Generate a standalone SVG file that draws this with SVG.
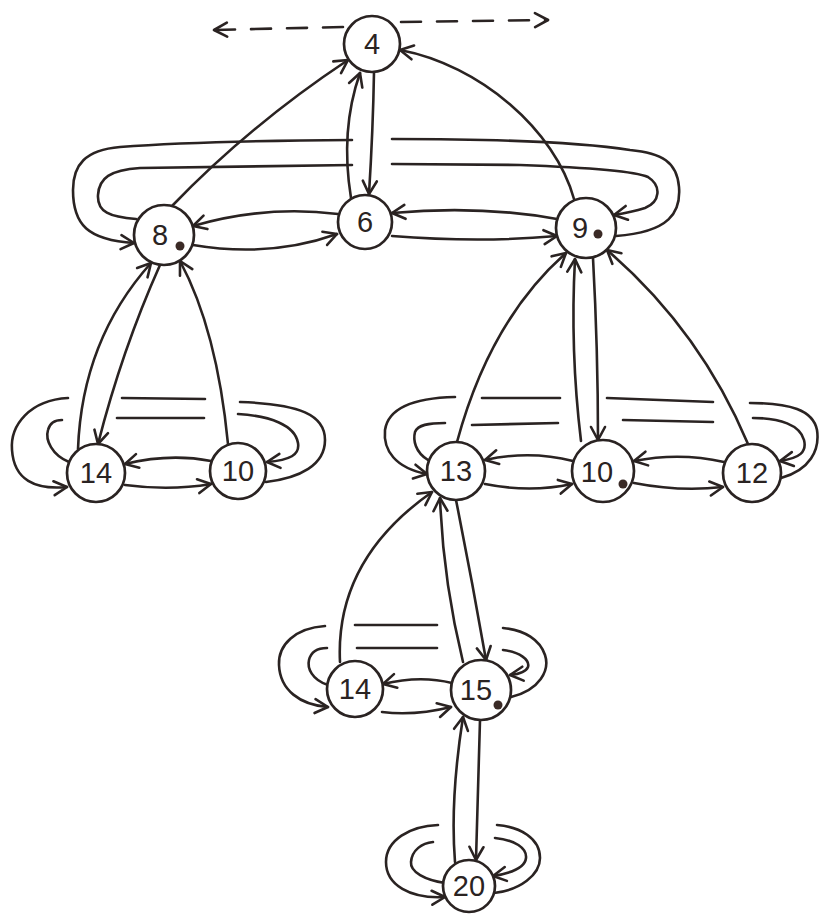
<svg xmlns="http://www.w3.org/2000/svg" width="822" height="920" viewBox="0 0 822 920">
<style>
.bg{fill:#ffffff}
.node circle.ring{fill:#ffffff;stroke:#2a2322;stroke-width:2.7}
.node text{font-family:"Liberation Sans","DejaVu Sans",sans-serif;font-size:29px;fill:#2a2322;text-anchor:middle}
.node circle.dot{fill:#3a2a26;stroke:none}
.e{fill:none;stroke:#2a2322;stroke-width:2.6;stroke-linecap:round;stroke-linejoin:round}
.a{marker-end:url(#arr)}
.d{stroke-dasharray:20 16}
</style>
<defs>
<marker id="arr" viewBox="-15 -9 18 18" refX="0" refY="0" markerWidth="18" markerHeight="18" markerUnits="userSpaceOnUse" orient="auto">
<path d="M-13,-7 L0,0 L-13,7" fill="none" stroke="#2a2322" stroke-width="2.6" stroke-linecap="round" stroke-linejoin="round"/>
</marker>
</defs>
<rect class="bg" x="0" y="0" width="822" height="920"/>
<g id="connectors">
<path class="e d a" d="M343,27 L214,30"/>
<path class="e d a" d="M401,22 L548,20"/>
<path class="e a" d="M172,206 Q250,125 348,60"/>
<path class="e a" d="M374,72 Q373,130 369,194"/>
<path class="e a" d="M351,198 Q340,130 360,73"/>
<path class="e a" d="M574,199 C555,130 480,65 400,50"/>
<path class="e a" d="M338,214 Q265,205 193,226"/>
<path class="e a" d="M193,245 Q270,258 337,234"/>
<path class="e a" d="M557,219 Q480,205 392,213"/>
<path class="e a" d="M392,236 Q480,243 557,236"/>
<path class="e" d="M616,236 C670,232 681,212 679,187 C677,162 662,153 630,150 Q560,139 392,139"/>
<path class="e a" d="M352,140 Q200,141 120,147 C85,150 73,165 73,190 C73,225 88,240 134,243"/>
<path class="e" d="M136,219 C110,217 97,212 98,195 C99,178 110,170 140,168 L352,165"/>
<path class="e a" d="M392,164 L520,165 Q630,169 648,177 C662,186 660,202 645,208 Q632,212 614,215"/>
<path class="e a" d="M78,449 Q82,340 151,263"/>
<path class="e a" d="M160,265 Q122,350 98,444"/>
<path class="e a" d="M228,444 Q217,330 180,261"/>
<path class="e a" d="M211,461 Q170,453 125,464"/>
<path class="e a" d="M125,485 Q170,491 211,484"/>
<path class="e" d="M266,482 C300,478 325,465 325,440 C325,415 300,404 240,402"/>
<path class="e" d="M205,399 L122,398"/>
<path class="e a" d="M68,398 C30,400 10,425 12,450 C14,480 35,490 67,487"/>
<path class="e" d="M69,462 C52,455 45,440 48,430 C50,422 56,420 62,420"/>
<path class="e" d="M117,418 L204,418"/>
<path class="e a" d="M238,414 C270,416 295,425 298,443 C300,455 290,460 267,462"/>
<path class="e a" d="M457,442 Q490,320 566,253"/>
<path class="e a" d="M581,441 Q570,350 575,259"/>
<path class="e a" d="M593,258 Q598,350 598,440"/>
<path class="e a" d="M748,444 Q700,330 607,250"/>
<path class="e a" d="M573,461 Q530,450 485,460"/>
<path class="e a" d="M485,484 Q530,493 572,484"/>
<path class="e a" d="M724,462 Q680,452 634,461"/>
<path class="e a" d="M634,483 Q680,492 723,487"/>
<path class="e" d="M781,478 C810,470 820,450 817,430 C813,410 790,403 750,403"/>
<path class="e" d="M713,402 L607,398"/>
<path class="e" d="M560,398 L482,398"/>
<path class="e a" d="M455,397 C410,398 388,410 385,430 C383,450 395,468 427,474"/>
<path class="e" d="M428,460 C415,452 413,440 415,432 C418,425 428,423 445,423"/>
<path class="e" d="M472,425 L558,423"/>
<path class="e" d="M623,420 L713,422"/>
<path class="e a" d="M753,418 C780,418 800,425 804,440 C807,452 800,458 780,461"/>
<path class="e a" d="M340,662 Q335,560 432,492"/>
<path class="e a" d="M463,662 Q443,580 440,498"/>
<path class="e a" d="M456,500 Q472,580 486,660"/>
<path class="e a" d="M452,683 Q420,675 383,684"/>
<path class="e a" d="M382,712 Q415,716 451,707"/>
<path class="e" d="M511,697 C540,690 550,670 545,655 C540,640 525,630 503,628"/>
<path class="e" d="M437,625 L355,625"/>
<path class="e a" d="M325,626 C295,628 278,645 279,665 C280,690 300,705 328,707"/>
<path class="e" d="M328,685 C312,680 307,668 309,660 C311,652 318,648 327,648"/>
<path class="e" d="M357,648 L437,648"/>
<path class="e a" d="M503,650 C520,652 530,660 528,667 C526,672 520,674 510,675"/>
<path class="e a" d="M455,862 Q450,800 463,717"/>
<path class="e a" d="M480,720 Q478,800 476,860"/>
<path class="e" d="M494,893 C520,890 540,875 540,858 C540,838 520,827 497,825"/>
<path class="e a" d="M438,825 C410,826 386,840 386,862 C386,885 410,899 445,897"/>
<path class="e" d="M445,883 C425,880 410,872 411,862 C412,850 422,843 433,842"/>
<path class="e a" d="M495,838 C515,840 527,848 526,858 C525,868 512,873 493,876"/>
</g>
<g id="node-4" class="node"><circle class="ring" cx="372" cy="44" r="28"/><text x="372" y="54">4</text></g>
<g id="node-6" class="node"><circle class="ring" cx="365" cy="222" r="27"/><text x="365" y="232">6</text></g>
<g id="node-8" class="node"><circle class="ring" cx="164" cy="235" r="30"/><text x="160" y="245">8</text><circle class="dot" cx="180" cy="246" r="4.5"/></g>
<g id="node-9" class="node"><circle class="ring" cx="586" cy="228" r="30"/><text x="580" y="238">9</text><circle class="dot" cx="598" cy="234" r="4.5"/></g>
<g id="node-14a" class="node"><circle class="ring" cx="96" cy="473" r="29"/><text x="96" y="483">14</text></g>
<g id="node-10a" class="node"><circle class="ring" cx="238" cy="471" r="28"/><text x="238" y="481">10</text></g>
<g id="node-13" class="node"><circle class="ring" cx="456" cy="471" r="29"/><text x="456" y="481">13</text></g>
<g id="node-10b" class="node"><circle class="ring" cx="603" cy="471" r="31"/><text x="597" y="482">10</text><circle class="dot" cx="623" cy="484" r="4.5"/></g>
<g id="node-12" class="node"><circle class="ring" cx="752" cy="473" r="29"/><text x="752" y="483">12</text></g>
<g id="node-14b" class="node"><circle class="ring" cx="355" cy="689" r="28"/><text x="355" y="699">14</text></g>
<g id="node-15" class="node"><circle class="ring" cx="481" cy="690" r="30"/><text x="476" y="700">15</text><circle class="dot" cx="498" cy="705" r="4.5"/></g>
<g id="node-20" class="node"><circle class="ring" cx="469" cy="886" r="26"/><text x="469" y="896">20</text></g>
</svg>
